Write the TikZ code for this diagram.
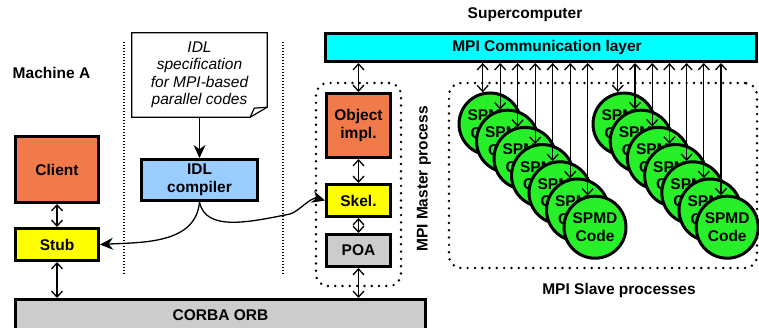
\documentclass[tikz,border=0pt]{standalone}
\usepackage{fontspec}
\setmainfont{Liberation Sans}
\usetikzlibrary{arrows.meta,calc}
\definecolor{implorange}{RGB}{240,122,74}
\definecolor{stubyellow}{RGB}{255,255,0}
\definecolor{orbgray}{RGB}{204,204,204}
\definecolor{idlblue}{RGB}{153,204,255}
\definecolor{mpicyan}{RGB}{0,255,255}
\definecolor{spmdgreen}{RGB}{40,240,40}
\newcommand{\figfont}{\fontsize{15.5}{17.5}\selectfont}
\tikzset{
    >={Stealth[length=13pt,width=12pt]},
    box/.style={draw=black,line width=3pt,font=\figfont\bfseries,align=center,inner sep=0pt},
    spmd/.style={draw=black,circle,line width=3pt,fill=spmdgreen,minimum size=62pt,
        font=\figfont\bfseries,align=center,inner sep=0pt},
    lbl/.style={font=\figfont\bfseries},
    dbl/.style={{Straight Barb[length=6pt,width=11pt]}-{Straight Barb[length=6pt,width=11pt]},line width=1.3pt},
    dotbox/.style={draw=black,line width=2.7pt,dash pattern=on 0pt off 7.3pt,line cap=round,rounded corners=12pt},
    sep/.style={line width=1.3pt,dash pattern=on 1.2pt off 1.8pt},
}

\begin{document}
\begin{tikzpicture}[x=1pt,y=-1pt]
    \useasboundingbox (0,0) rectangle (759,328);

    \node[lbl] (machine) at (51.5,72.5) {Machine A};
    \node[lbl] (super) at (525,15) {Supercomputer};
    \node[lbl] (slavelbl) at (619,290) {MPI Slave processes};
    \node[lbl,rotate=90] (masterlbl) at (424,179) {MPI Master process};

    \draw[sep] (124,42) -- (124,275);
    \draw[sep] (283,42) -- (283,275);

    \node[dotbox,minimum width=85pt,minimum height=203pt] (master) at (358.5,184.5) {};
    \node[dotbox,minimum width=308pt,minimum height=185pt] (slaves) at (603,175.5) {};

    \node[box,fill=implorange,minimum width=83pt,minimum height=66pt] (client) at (57,169.5) {Client};
    \node[box,fill=stubyellow,minimum width=83pt,minimum height=32pt] (stub) at (57,244.5) {Stub};
    \node[box,fill=idlblue,minimum width=116pt,minimum height=41pt] (idlc) at (199.5,180) {IDL\\compiler};
    \node[box,fill=orbgray,minimum width=410pt,minimum height=31pt] (corba) at (220.5,315) {CORBA ORB};
    \node[box,fill=mpicyan,minimum width=431pt,minimum height=28pt] (mpi) at (541,47.5) {\hspace*{12pt}MPI Communication layer};
    \node[box,fill=implorange,minimum width=64pt,minimum height=64pt] (obj) at (358.5,125.5) {Object\\impl.};
    \node[box,fill=stubyellow,minimum width=64pt,minimum height=32pt] (skel) at (358.5,200.5) {Skel.};
    \node[box,fill=orbgray,minimum width=64pt,minimum height=32pt] (poa) at (358.5,250.5) {POA};

    \node[minimum width=135pt,minimum height=84pt,inner sep=0pt] (spec) at (199.5,75) {};
    \draw[line width=1.2pt,fill=white] (spec.north west) -- (spec.north east) -- ($(spec.south east)+(0,-10)$)
        -- ($(spec.south east)+(-17,0)$) -- (spec.south west) -- cycle;
    \draw[line width=1.2pt] ($(spec.south east)+(-17,0)$) -- ($(spec.south east)+(-13,-9)$) -- ($(spec.south east)+(0,-10)$);
    \node[align=center,font=\figfont\itshape] (spectext) at (spec) {IDL\\specification\\for MPI-based\\parallel codes};

    \foreach \i in {0,...,6} {
        \node[spmd] (a\i) at ({490+17.5*\i},{124+17.2*\i}) {SPMD\\Code};
    }
    \foreach \i in {0,...,6} {
        \node[spmd] (b\i) at ({624+17.2*\i},{124+17.2*\i}) {SPMD\\Code};
    }
    \foreach \i in {0,...,6} {
        \draw[dbl] (a\i.103) -- (a\i.103 |- mpi.south);
        \draw[dbl] (b\i.101) -- (b\i.101 |- mpi.south);
    }

    \draw[->,line width=1.3pt] (spec) -- (idlc);
    \draw[->,line width=1.3pt] (idlc.south) to[out=-95,in=3] (stub.east);
    \draw[->,line width=1.3pt] (idlc.south) .. controls +(6,30) and +(-40,8) .. (290,214)
        .. controls +(8,-2) and +(-14,-4) .. (skel.west);

    \draw[dbl] (client) -- (stub);
    \draw[dbl] (stub) -- (stub |- corba.north);
    \draw[dbl] (obj) -- (obj |- mpi.south);
    \draw[dbl] (obj) -- (skel);
    \draw[dbl] (skel) -- (poa);
    \draw[dbl] (poa) -- (poa |- corba.north);
\end{tikzpicture}
\end{document}
